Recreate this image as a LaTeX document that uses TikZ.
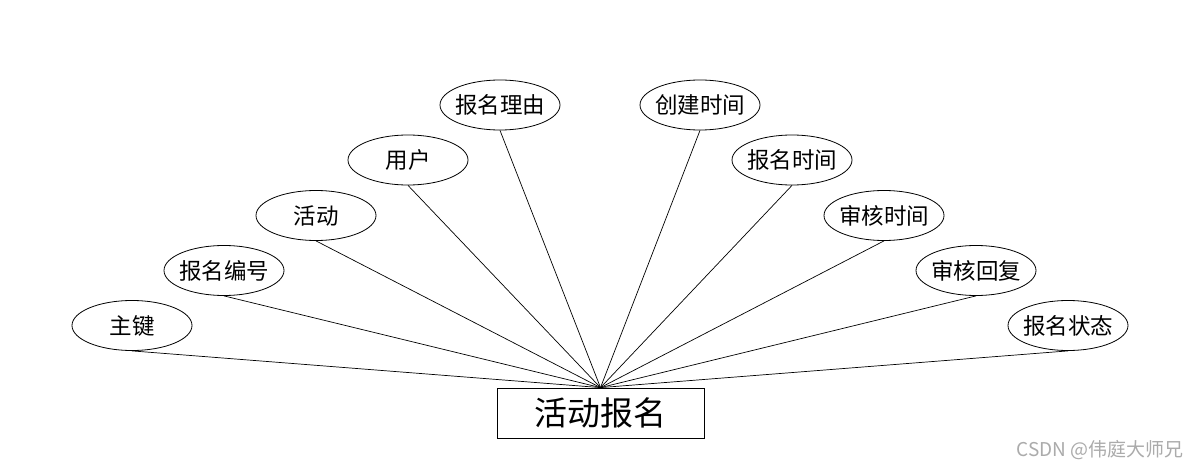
\documentclass[tikz,border=0pt]{standalone}
\usepackage{fontspec}
\setmainfont{Noto Sans CJK SC}
\usetikzlibrary{shapes.geometric}
\tikzset{
  attr/.style={draw=black, line width=0.8pt, shape=ellipse, minimum width=120pt, minimum height=50pt, inner sep=0pt, font=\fontsize{22.5}{22.5}\selectfont},
  entity/.style={draw=black, line width=0.8pt, shape=rectangle, minimum width=207pt, minimum height=50pt, inner sep=0pt, font=\fontsize{33}{33}\selectfont},
  link/.style={draw=black, line width=0.7pt}
}
\newcommand{\zw}[1]{\makebox[0pt][c]{#1}}
\begin{document}
\begin{tikzpicture}[x=1pt,y=-1pt]
\useasboundingbox[fill=white] (0,0) rectangle (1200,468);
\node[entity] (e) at (600.5,413) {活动报名};
\node[attr] (a1) at (132,325.5) {\zw{主键}};
\node[attr] (a2) at (224,270.5) {\zw{报名编号}};
\node[attr] (a3) at (316,215.5) {\zw{活动}};
\node[attr] (a4) at (408,160) {\zw{用户}};
\node[attr] (a5) at (500,105) {\zw{报名理由}};
\node[attr] (b5) at (700,105) {\zw{创建时间}};
\node[attr] (b4) at (792,160) {\zw{报名时间}};
\node[attr] (b3) at (884,215.5) {\zw{审核时间}};
\node[attr] (b2) at (976,270.5) {\zw{审核回复}};
\node[attr] (b1) at (1068,325.5) {\zw{报名状态}};
\foreach \n in {a1,a2,a3,a4,a5,b5,b4,b3,b2,b1}
  \draw[link] (\n.south) -- (e.north);
\node[anchor=east, text=black!33, font=\fontsize{19}{19}\selectfont, inner sep=0pt] (wm) at (1184,450) {CSDN @伟庭大师兄};
\end{tikzpicture}
\end{document}
